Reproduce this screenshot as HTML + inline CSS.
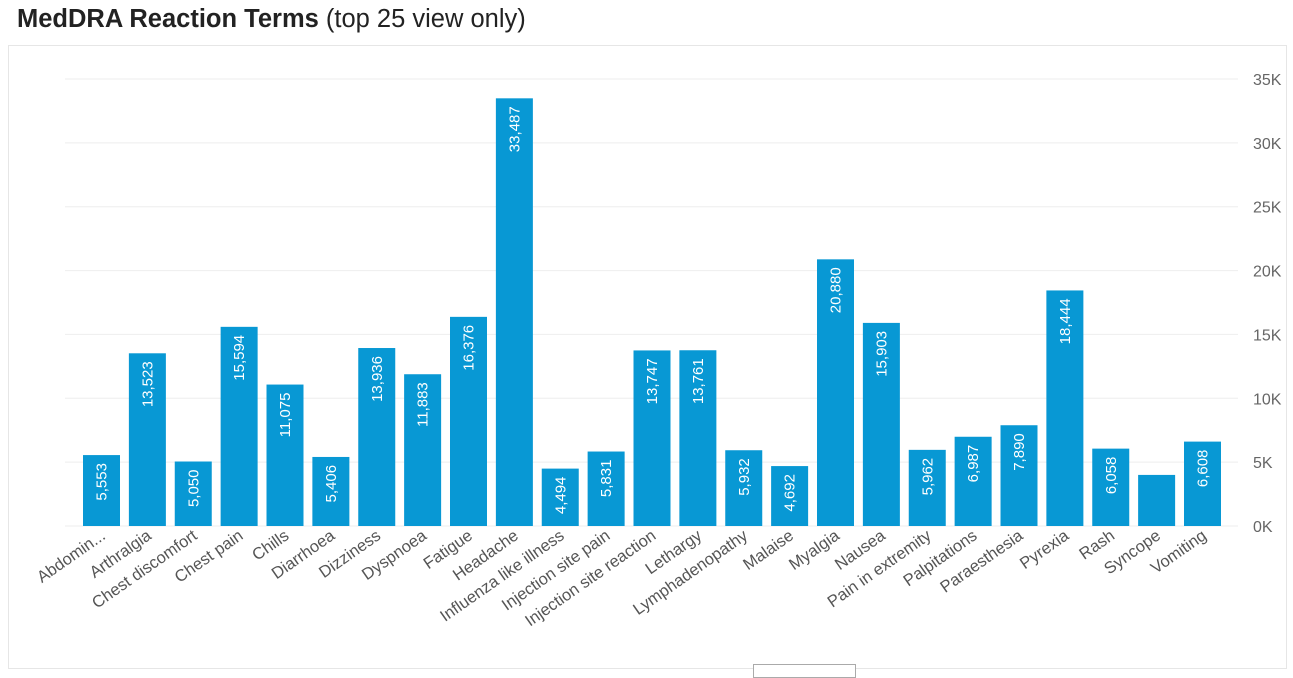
<!DOCTYPE html>
<html><head><meta charset="utf-8"><style>
body{margin:0;width:1293px;height:672px;background:#fff;font-family:"Liberation Sans","DejaVu Sans",sans-serif;overflow:hidden;position:relative}
#title{position:absolute;left:17px;top:5px;font-size:25.5px;color:#222}
#title b{font-weight:bold}
#panel{position:absolute;left:8px;top:45px;width:1279px;height:624px;border:1px solid #e6e6e6;box-sizing:border-box}
#tab{position:absolute;left:753px;top:664px;width:101px;height:12px;border:1px solid #aaa;background:#fff}
svg{position:absolute;left:0;top:0}
</style></head><body>
<div id="title"><b>MedDRA Reaction Terms</b> (top 25 view only)</div>
<div id="panel"></div>
<div id="tab"></div>
<svg id="chart" width="1293" height="672"></svg>
<script>
const categories=["Abdomin...","Arthralgia","Chest discomfort","Chest pain","Chills","Diarrhoea","Dizziness","Dyspnoea","Fatigue","Headache","Influenza like illness","Injection site pain","Injection site reaction","Lethargy","Lymphadenopathy","Malaise","Myalgia","Nausea","Pain in extremity","Palpitations","Paraesthesia","Pyrexia","Rash","Syncope","Vomiting"];
const values=[5553,13523,5050,15594,11075,5406,13936,11883,16376,33487,4494,5831,13747,13761,5932,4692,20880,15903,5962,6987,7890,18444,6058,4000,6608];
const showLabel=[1,1,1,1,1,1,1,1,1,1,1,1,1,1,1,1,1,1,1,1,1,1,1,0,1];
const ticks=[0,5000,10000,15000,20000,25000,30000,35000];
const tickLabels=["0K","5K","10K","15K","20K","25K","30K","35K"];
const NS="http://www.w3.org/2000/svg";
const svg=document.getElementById('chart');
const y0=526,y1=79,yMax=35000;
const y=v=>y0-(v/yMax)*(y0-y1);
const firstX=83,pitch=(1184-83)/24,bw=37;
const x=i=>firstX+i*pitch;
function mk(t,a){const e=document.createElementNS(NS,t);for(const k in a)e.setAttribute(k,a[k]);svg.appendChild(e);return e;}
ticks.forEach((t,i)=>{
  const g=mk('line',{x1:65,x2:1238,y1:y(t),y2:y(t),stroke:'#eeeeee','stroke-width':1});
  
  
  const l=mk('text',{x:1253,y:y(t)+6,'font-size':16,fill:'#666'});
  l.textContent=tickLabels[i];
  
  
});
values.forEach((v,i)=>{
  const r=mk('rect',{x:x(i),y:y(v),width:bw,height:y0-y(v),fill:'#0898d4'});
  
  
  const cx=x(i)+bw/2;
  if(showLabel[i]){
    const t=mk('text',{x:0,y:0,'font-size':15,fill:'#fff','text-anchor':'end',transform:`translate(${cx+5},${y(v)+8}) rotate(-90)`});
    t.textContent=v.toLocaleString('en-US');
    
    
  }
  const lx=cx+5,ly=538;
  const c=mk('text',{x:0,y:0,'font-size':16.5,fill:'#555','text-anchor':'end',transform:`translate(${lx},${ly}) rotate(-35)`});
  c.textContent=categories[i];
  
  
});
</script>
</body></html>
